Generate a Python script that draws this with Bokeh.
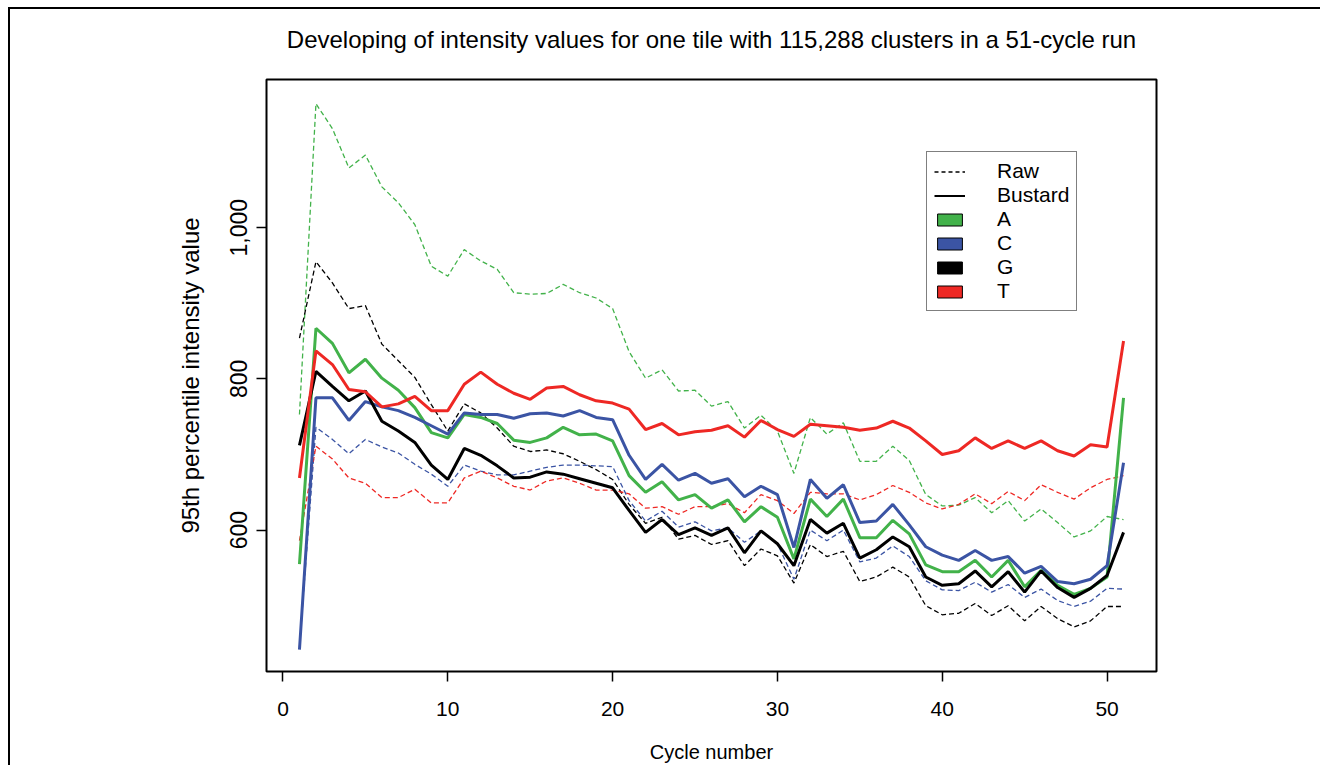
from bokeh.plotting import figure
from bokeh.models import Range1d, FixedTicker, NumeralTickFormatter, Legend, LegendItem, ColumnDataSource
from bokeh.embed import file_html
from bokeh.resources import INLINE

cycles = list(range(1, 52))

# Raw intensities (dashed)
a_raw = [753, 1164, 1131, 1079, 1096, 1054, 1033, 1004, 949, 936, 971, 956, 945, 914, 912, 913, 925, 914, 907, 893,
         836, 801, 812, 784, 785, 764, 770, 735, 752, 731, 675, 749, 727, 742, 691, 691, 711, 692, 647, 632,
         633, 643, 623, 639, 612, 628, 610, 591, 599, 618, 614]
c_raw = [445, 736, 720, 701, 720, 710, 702, 687, 674, 658, 686, 678, 673, 673, 678, 683, 686, 686, 685, 684,
         639, 612, 625, 604, 611, 599, 603, 584, 599, 582, 535, 600, 586, 600, 558, 563, 579, 565, 533, 521,
         520, 531, 518, 528, 511, 522, 507, 499, 506, 523, 522]
g_raw = [854, 955, 927, 893, 897, 846, 824, 802, 766, 731, 767, 755, 735, 711, 704, 706, 701, 691, 680, 667,
         634, 609, 617, 588, 593, 581, 586, 553, 575, 566, 530, 581, 565, 572, 532, 538, 551, 538, 500, 488,
         490, 503, 487, 500, 480, 499, 483, 472, 480, 499, 499]
t_raw = [586, 711, 694, 669, 662, 643, 643, 654, 636, 636, 669, 678, 669, 658, 653, 665, 669, 662, 653, 653,
         648, 629, 631, 621, 631, 631, 635, 623, 647, 639, 622, 650, 648, 648, 640, 647, 659, 650, 636, 628,
         634, 648, 635, 651, 639, 660, 650, 641, 656, 667, 672]

# Bustard intensities (solid)
a_bus = [555, 867, 847, 808, 826, 801, 785, 762, 729, 722, 753, 749, 741, 719, 716, 722, 736, 726, 727, 718,
         672, 650, 664, 640, 647, 629, 640, 611, 631, 617, 562, 641, 618, 641, 590, 590, 613, 595, 554, 545,
         545, 560, 538, 560, 525, 547, 527, 515, 523, 538, 775]
c_bus = [442, 775, 775, 745, 770, 763, 758, 749, 738, 727, 755, 753, 753, 748, 754, 755, 751, 758, 749, 746,
         699, 667, 687, 666, 675, 662, 668, 644, 658, 647, 577, 667, 642, 660, 610, 612, 634, 607, 578, 567,
         560, 573, 560, 565, 543, 552, 532, 529, 535, 553, 689]
g_bus = [712, 810, 790, 771, 784, 744, 731, 716, 686, 667, 708, 699, 685, 669, 670, 677, 674, 668, 662, 656,
         626, 597, 614, 594, 603, 593, 603, 570, 599, 582, 553, 614, 596, 609, 563, 574, 591, 578, 538, 527,
         529, 546, 525, 545, 518, 546, 524, 511, 523, 540, 597]
t_bus = [669, 837, 819, 786, 783, 763, 767, 777, 758, 758, 793, 809, 793, 781, 773, 788, 790, 779, 771, 768,
         760, 733, 741, 726, 730, 732, 738, 723, 745, 733, 724, 740, 738, 736, 732, 735, 744, 735, 718, 700,
         705, 722, 708, 718, 708, 718, 705, 698, 713, 710, 850]

bases = ["A", "C", "G", "T"]
colors = ["#42B24A", "#3B54A4", "#000000", "#EE2824"]
x_ticks = [0, 10, 20, 30, 40, 50]
y_ticks = [600, 800, 1000]

FONT = "Liberation Sans"

p = figure(frame_width=890, frame_height=592,
           min_border_left=266, min_border_right=164, min_border_top=79, min_border_bottom=92,
           x_range=Range1d(-1, 53), y_range=Range1d(413, 1196),
           output_backend="svg", toolbar_location=None,
           title="Developing of intensity values for one tile with 115,288 clusters in a 51-cycle run")

p.styles = {"box-shadow": "inset 8px 7px 0 0 #ffffff, inset 10px 9px 0 0 #000000"}
p.border_fill_color = None
p.background_fill_color = "white"
p.outline_line_color = "black"
p.outline_line_width = 2
p.grid.visible = False

p.title.align = "center"
p.title.vertical_align = "top"
p.title.text_font = FONT
p.title.text_font_size = "24px"
p.title.text_font_style = "normal"
p.title.text_color = "black"
p.title.standoff = 49

xax = p.below[0]
yax = p.left[0]
for ax in (xax, yax):
    ax.axis_line_color = None
    ax.major_tick_in = 0
    ax.major_tick_out = 10
    ax.major_tick_line_width = 1.5
    ax.minor_tick_line_color = None
    ax.major_label_text_font = FONT
    ax.major_label_text_color = "black"
    ax.axis_label_text_font = FONT
    ax.axis_label_text_color = "black"
    ax.axis_label_text_font_style = "normal"

xax.ticker = FixedTicker(ticks=x_ticks)
yax.ticker = FixedTicker(ticks=y_ticks)
yax.formatter = NumeralTickFormatter(format="0,0")
yax.major_label_orientation = "vertical"
xax.axis_label = "Cycle number"
yax.axis_label = "95th percentile intensity value"
xax.major_label_text_font_size = "21px"
yax.major_label_text_font_size = "23px"
xax.axis_label_text_font_size = "20px"
yax.axis_label_text_font_size = "24px"
xax.major_label_standoff = 20
xax.axis_label_standoff = 22
yax.major_label_standoff = 9
yax.axis_label_standoff = 24

raw = [a_raw, c_raw, g_raw, t_raw]
bus = [a_bus, c_bus, g_bus, t_bus]
for vals, col in zip(raw, colors):
    p.line(cycles, vals, line_color=col, line_width=1.3, line_dash="5 3")
for vals, col in zip(bus, colors):
    p.line(cycles, vals, line_color=col, line_width=3)

# legend-only renderers (a single missing value, so nothing is drawn in the plot area)
nan = float("nan")
key_src = ColumnDataSource(data=dict(x=[nan], y=[nan], l=[nan], r=[nan], b=[nan], t=[nan]))
leg_raw = p.line("x", "y", source=key_src, line_color="black", line_width=1.3, line_dash="4 3")
leg_bus = p.line("x", "y", source=key_src, line_color="black", line_width=2)
items = [LegendItem(label="Raw", renderers=[leg_raw]), LegendItem(label="Bustard", renderers=[leg_bus])]
for b, col in zip(bases, colors):
    r = p.quad(left="l", right="r", bottom="b", top="t", source=key_src,
               fill_color=col, line_color="black", line_width=1)
    items.append(LegendItem(label=b, renderers=[r]))

legend = Legend(items=items, location=(660, 360))
legend.border_line_color = "black"
legend.border_line_width = 1.5
legend.padding = 7
legend.spacing = 0
legend.margin = 0
legend.glyph_width = 31
legend.glyph_height = 15
legend.label_standoff = 32
legend.label_height = 20
legend.label_text_font = FONT
legend.label_text_font_size = "21px"
legend.label_text_color = "black"
legend.background_fill_alpha = 1
p.add_layout(legend, "center")

open("out.html", "w").write(file_html(p, INLINE))
